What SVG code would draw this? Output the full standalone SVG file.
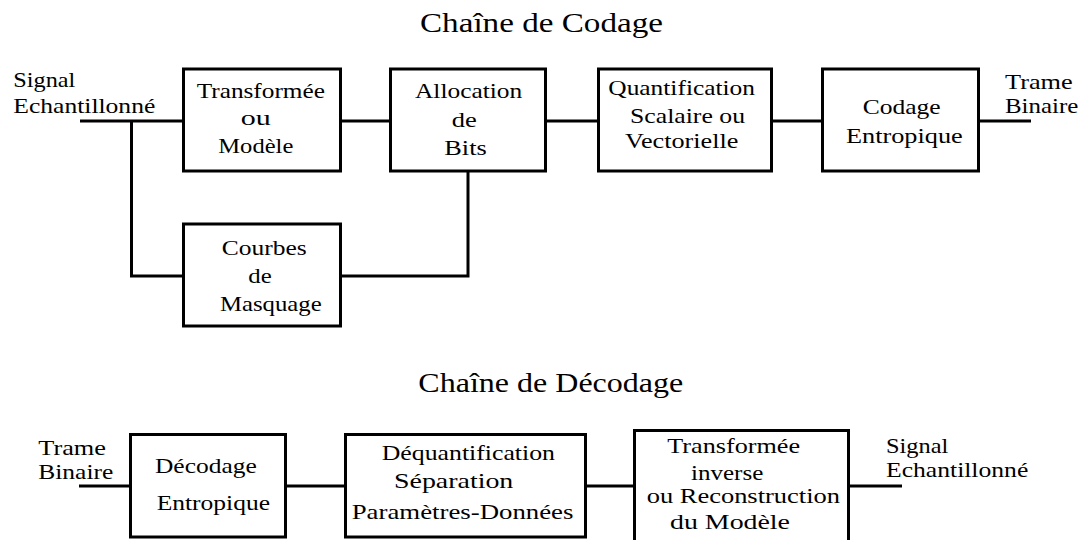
<svg xmlns="http://www.w3.org/2000/svg" width="1082" height="540" viewBox="0 0 1082 540">
<style>
.box{fill:#fff;stroke:#000;stroke-width:3}
.ln{fill:none;stroke:#000;stroke-width:3}
</style>
<rect width="1082" height="540" fill="#fff"/>
<g font-family="Liberation Serif, DejaVu Serif, Times New Roman, serif" font-size="21" fill="#000">
<text font-size="28" x="420" y="31.5" textLength="243" lengthAdjust="spacingAndGlyphs">Chaîne de Codage</text>
<text font-size="28" x="418.3" y="391.7" textLength="265" lengthAdjust="spacingAndGlyphs">Chaîne de Décodage</text>
<g id="connectors">
<path class="ln" d="M80,121 H183.5"/>
<path class="ln" d="M131.5,121 V276 H183.5"/>
<path class="ln" d="M340.5,121 H390.5"/>
<path class="ln" d="M545.5,121 H598.5"/>
<path class="ln" d="M771.5,121 H822.5"/>
<path class="ln" d="M978.5,121 H1031"/>
<path class="ln" d="M468,171 V276 H340.5"/>
<path class="ln" d="M79,486 H130.5"/>
<path class="ln" d="M285.5,486 H345.5"/>
<path class="ln" d="M585.5,486 H634.5"/>
<path class="ln" d="M848.5,486 H902"/>
</g>
<g id="in-label">
<text x="13.3" y="87.3" textLength="62" lengthAdjust="spacingAndGlyphs">Signal</text>
<text x="13.3" y="113.3" textLength="142" lengthAdjust="spacingAndGlyphs">Echantillonné</text>
</g>
<g id="transformee">
<rect class="box" x="183.5" y="69" width="157" height="102"/>
<text x="196.7" y="98.3" textLength="128.3" lengthAdjust="spacingAndGlyphs">Transformée</text>
<text x="240.7" y="125" textLength="30" lengthAdjust="spacingAndGlyphs">ou</text>
<text x="218.3" y="153.3" textLength="75" lengthAdjust="spacingAndGlyphs">Modèle</text>
</g>
<g id="allocation">
<rect class="box" x="390.5" y="69" width="155" height="102"/>
<text x="415" y="98.3" textLength="107.3" lengthAdjust="spacingAndGlyphs">Allocation</text>
<text x="451.7" y="126.7" textLength="25" lengthAdjust="spacingAndGlyphs">de</text>
<text x="444.3" y="155" textLength="42.4" lengthAdjust="spacingAndGlyphs">Bits</text>
</g>
<g id="quantification">
<rect class="box" x="598.5" y="69" width="173" height="102"/>
<text x="608.3" y="95" textLength="146.7" lengthAdjust="spacingAndGlyphs">Quantification</text>
<text x="630" y="123.3" textLength="115" lengthAdjust="spacingAndGlyphs">Scalaire ou</text>
<text x="625" y="148.3" textLength="113.3" lengthAdjust="spacingAndGlyphs">Vectorielle</text>
</g>
<g id="codage">
<rect class="box" x="822.5" y="69" width="156" height="102"/>
<text x="862.7" y="114" textLength="78" lengthAdjust="spacingAndGlyphs">Codage</text>
<text x="846" y="142.7" textLength="116.7" lengthAdjust="spacingAndGlyphs">Entropique</text>
</g>
<g id="out-label">
<text x="1005" y="89.3" textLength="67.7" lengthAdjust="spacingAndGlyphs">Trame</text>
<text x="1005" y="113.3" textLength="73.3" lengthAdjust="spacingAndGlyphs">Binaire</text>
</g>
<g id="courbes">
<rect class="box" x="183.5" y="224" width="157" height="102"/>
<text x="221.7" y="255" textLength="85" lengthAdjust="spacingAndGlyphs">Courbes</text>
<text x="248.3" y="283.3" textLength="23.4" lengthAdjust="spacingAndGlyphs">de</text>
<text x="220" y="310.5" textLength="101.7" lengthAdjust="spacingAndGlyphs">Masquage</text>
</g>
<g id="dec-in-label">
<text x="38.3" y="455" textLength="67.7" lengthAdjust="spacingAndGlyphs">Trame</text>
<text x="38.3" y="479.3" textLength="75" lengthAdjust="spacingAndGlyphs">Binaire</text>
</g>
<g id="decodage">
<rect class="box" x="130.5" y="434.5" width="155" height="102.5"/>
<text x="155" y="473.3" textLength="101.7" lengthAdjust="spacingAndGlyphs">Décodage</text>
<text x="156.7" y="510" textLength="113.3" lengthAdjust="spacingAndGlyphs">Entropique</text>
</g>
<g id="dequantification">
<rect class="box" x="345.5" y="434.5" width="240" height="102.5"/>
<text x="381.7" y="460" textLength="173.3" lengthAdjust="spacingAndGlyphs">Déquantification</text>
<text x="394" y="488.3" textLength="119.3" lengthAdjust="spacingAndGlyphs">Séparation</text>
<text x="351.7" y="519.3" textLength="221.7" lengthAdjust="spacingAndGlyphs">Paramètres-Données</text>
</g>
<g id="transformee-inverse">
<rect class="box" x="634.5" y="430.5" width="214" height="115"/>
<text x="667.3" y="453.3" textLength="132.7" lengthAdjust="spacingAndGlyphs">Transformée</text>
<text x="691" y="480" textLength="72.3" lengthAdjust="spacingAndGlyphs">inverse</text>
<text x="646.7" y="503.3" textLength="193.3" lengthAdjust="spacingAndGlyphs">ou Reconstruction</text>
<text x="670" y="529.3" textLength="120" lengthAdjust="spacingAndGlyphs">du Modèle</text>
</g>
<g id="dec-out-label">
<text x="886" y="453.3" textLength="62.3" lengthAdjust="spacingAndGlyphs">Signal</text>
<text x="886" y="476.7" textLength="142.3" lengthAdjust="spacingAndGlyphs">Echantillonné</text>
</g>
</g>
</svg>
